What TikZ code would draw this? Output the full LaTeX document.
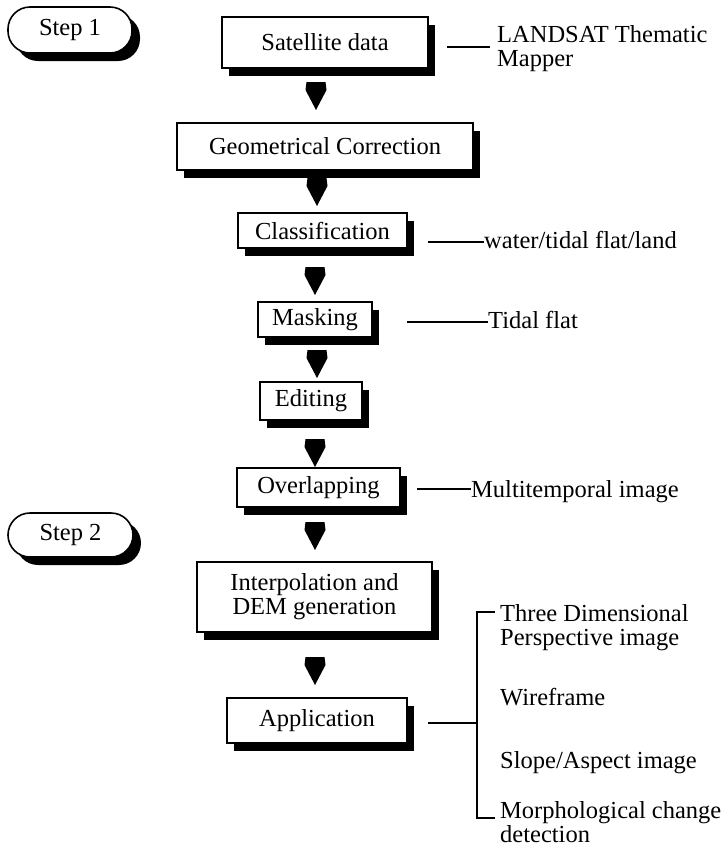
\documentclass[tikz,border=0pt]{standalone}
\usepackage{fontspec}
\setmainfont{Liberation Serif}
\usetikzlibrary{shadows}
\lineskiplimit=-30pt
\begin{document}
\begin{tikzpicture}[x=1pt,y=-1pt,
  txt/.style={font=\fontsize{24.5}{24}\selectfont},
  flowbox/.style={txt, draw, fill=white, line width=1.6pt, inner sep=0pt, align=center,
     drop shadow={shadow xshift=7pt, shadow yshift=-8pt, fill=black, opacity=1}},
  pill/.style={txt, draw, fill=white, line width=1.6pt, inner sep=0pt, rounded corners=22pt,
     drop shadow={shadow xshift=8pt, shadow yshift=-8pt, fill=black, opacity=1}},
  sidetext/.style={txt, inner sep=0pt, align=left, anchor=base west},
  sideline/.style={line width=1.8pt},
  pics/darrow/.style={code={\fill (-9.5,0) -- (9.5,0) -- (10.5,8) -- (0,28) -- (-10.5,8) -- cycle;}}
]
\useasboundingbox (0,0) rectangle (725,849);

% step pills
\node[pill, minimum width=124pt, minimum height=46pt] (step1) at (70,30) {Step 1};
\node[pill, minimum width=125pt, minimum height=44pt] (step2) at (70.5,535) {Step 2};

% main boxes
\node[flowbox, minimum width=206pt, minimum height=51pt] (sat)    at (325,42.5)  {Satellite data};
\node[flowbox, minimum width=296pt, minimum height=47pt] (geo)    at (325,146.5) {Geometrical Correction};
\node[flowbox, minimum width=169pt, minimum height=35pt] (cls)    at (322.5,230.5) {Classification};
\node[flowbox, minimum width=114pt, minimum height=35pt] (mask)   at (315,319.5) {Masking};
\node[flowbox, minimum width=102pt, minimum height=38pt] (edit)   at (311,401)   {Editing};
\node[flowbox, minimum width=163pt, minimum height=39pt] (over)   at (318.5,487.5) {Overlapping};
\node[flowbox, minimum width=235pt, minimum height=70pt] (interp) at (314.5,597) {Interpolation and\\DEM generation};
\node[flowbox, minimum width=180pt, minimum height=45pt] (app)    at (317,720.5) {Application};

% block arrows
\pic at (316,82)  {darrow};
\pic at (317,178) {darrow};
\pic at (315,267) {darrow};
\pic at (317,350) {darrow};
\pic at (315,439) {darrow};
\pic at (315,522) {darrow};
\pic at (315,657) {darrow};

% side annotations
\node[sidetext] (landsat) at (497,66)  {LANDSAT Thematic\\Mapper};
\node[sidetext] (water)   at (484,248) {water/tidal flat/land};
\node[sidetext] (tidal)   at (488,328) {Tidal flat};
\node[sidetext] (multi)   at (471,497) {Multitemporal image};

\coordinate (l1) at (447,47);
\coordinate (l2) at (428,242);
\coordinate (l3) at (407,322);
\coordinate (l4) at (417,489);
\draw[sideline] (l1) -- ([xshift=-7pt]landsat.west |- l1);
\draw[sideline] (l2) -- (water.west |- l2);
\draw[sideline] (l3) -- (tidal.west |- l3);
\draw[sideline] (l4) -- (multi.west |- l4);

% application outputs
\node[sidetext] (three) at (500,645) {Three Dimensional\\Perspective image};
\node[sidetext] (wire)  at (500,705) {Wireframe};
\node[sidetext] (slope) at (500,768) {Slope/Aspect image};
\node[sidetext] (morph) at (500,842) {Morphological change\\detection};

\coordinate (bmid) at (477,723);
\coordinate (btop) at (477,612);
\coordinate (bbot) at (477,818);
\draw[sideline] ([xshift=20pt]app.east |- bmid) -- (bmid);
\draw[line width=2.2pt] ([xshift=-5pt]three.west |- btop) -- (btop) -- (bbot) -- ([xshift=-5pt]morph.west |- bbot);
\end{tikzpicture}
\end{document}
